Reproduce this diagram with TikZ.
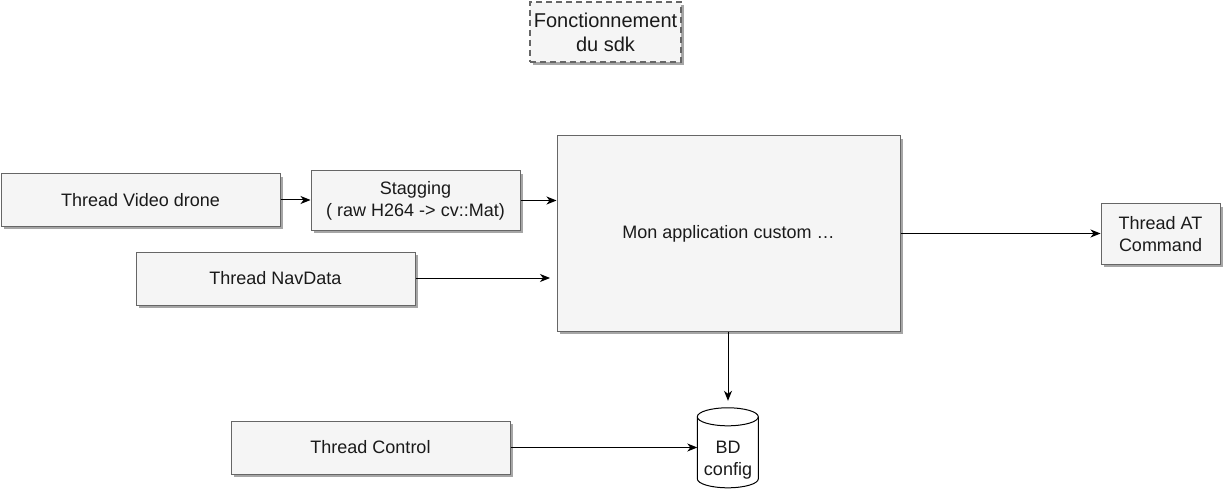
\documentclass[tikz,border=0pt]{standalone}
\usepackage{fontspec}
\setmainfont{Liberation Sans}
\usetikzlibrary{shadows,arrows.meta}
\definecolor{boxfill}{HTML}{F5F5F5}
\definecolor{boxline}{HTML}{666666}
\definecolor{txt}{HTML}{1A1A1A}
\begin{document}
\begin{tikzpicture}[x=1pt,y=-1pt,
  font=\fontsize{18}{22}\selectfont,
  boxnode/.style={draw=boxline, fill=boxfill, line width=1pt, text=txt, align=center,
    inner sep=0pt, drop shadow={shadow xshift=3pt, shadow yshift=-3pt, fill=black!35, opacity=1}},
  conn/.style={line width=1pt, -{Stealth[length=10pt,width=8pt,inset=3pt]}}]
\useasboundingbox (0,0) rectangle (1223,489);
\node[boxnode, line width=1.6pt, dash pattern=on 6pt off 4pt, minimum width=151pt, minimum height=60pt,
  font=\fontsize{20}{24}\selectfont] (title) at (605.5,32) {Fonctionnement\\du sdk};
\node[boxnode, minimum width=279pt, minimum height=52pt] (video) at (140.5,200) {Thread Video drone};
\node[boxnode, minimum width=209pt, minimum height=59pt] (stag) at (415.5,200.5) {Stagging\\( raw H264 -> cv::Mat)};
\node[boxnode, minimum width=343pt, minimum height=195pt] (app) at (728.5,233.5) {Mon application custom …};
\node[boxnode, minimum width=279pt, minimum height=53pt] (nav) at (275.5,278.5) {Thread NavData};
\node[boxnode, minimum width=119pt, minimum height=60pt] (at) at (1160.5,234) {Thread AT\\Command};
\node[boxnode, minimum width=279pt, minimum height=53pt] (ctrl) at (370.5,447.5) {Thread Control};
% cylinder
\node[minimum width=61pt, minimum height=80pt, inner sep=0pt] (bd) at (728,448) {};
\draw[draw=black, fill=white, line width=1pt]
  (bd.north west) ++(0,9) coordinate (cyltl)
  (cyltl) arc[start angle=180, end angle=0, x radius=30.5pt, y radius=9pt]
  -- ++(0,62) arc[start angle=0, end angle=-180, x radius=30.5pt, y radius=9pt] -- cycle;
\draw[line width=1pt] (cyltl) arc[start angle=180, end angle=360, x radius=30.5pt, y radius=9pt];
\node[text=txt, align=center] (bdtext) at (728,460) {BD\\config};
\coordinate (navend) at (550,278);
\draw[conn] (video.east) -- (stag.west |- video.east);
\draw[conn] (stag.east) -- (stag.east -| app.west);
\draw[conn] (nav.east |- navend) -- (navend);
\draw[conn] (app.east) -- (app.east -| at.west);
\draw[conn, shorten >=7pt] (bd.north |- app.south) -- (bd.north);
\draw[conn] (ctrl.east) -- (ctrl.east -| bd.west);
\end{tikzpicture}
\end{document}
